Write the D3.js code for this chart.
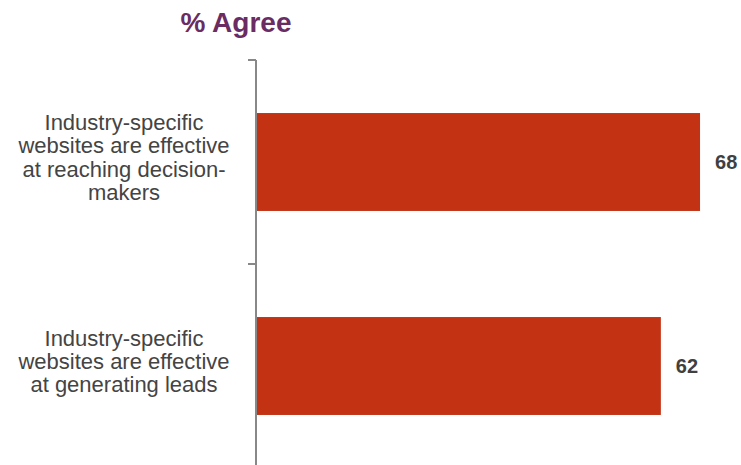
<!DOCTYPE html>
<html>
<head>
<meta charset="utf-8">
<script src="https://cdn.jsdelivr.net/npm/d3@7"></script>
<style>
  body { margin: 0; background: #fff; }
  svg { display: block; font-family: "Liberation Sans", Arial, sans-serif; }
</style>
</head>
<body>
<div id="chart"></div>
<script>
// chart data
const categories = [
  ["Industry-specific", "websites are effective", "at reaching decision-", "makers"],
  ["Industry-specific", "websites are effective", "at generating leads"]
];
const values = [68, 62];
const title = "% Agree";

const width = 741;
const height = 465;

const svg = d3.select("#chart").append("svg")
  .attr("width", width)
  .attr("height", height);

// scales
const x = d3.scaleLinear().domain([0, 100]).range([256, 909]);
const y = d3.scaleBand()
  .domain(d3.range(values.length))
  .range([60, 468])
  .paddingInner(0.52)
  .paddingOuter(0.26);

// title
svg.append("text")
  .attr("x", 236)
  .attr("y", 32)
  .attr("text-anchor", "middle")
  .style("font-size", "28px")
  .style("font-weight", "bold")
  .style("fill", "#6a2c62")
  .text(title);

// bars
svg.append("g").selectAll("rect")
  .data(values)
  .join("rect")
  .attr("x", x(0))
  .attr("y", (d, i) => y(i))
  .attr("width", d => x(d) - x(0))
  .attr("height", y.bandwidth())
  .attr("fill", "#c23213");

// value labels
svg.append("g").selectAll("text")
  .data(values)
  .join("text")
  .attr("x", d => x(d) + 15)
  .attr("y", (d, i) => y(i) + y.bandwidth() / 2)
  .attr("dy", "0.35em")
  .style("font-size", "20px")
  .style("font-weight", "bold")
  .style("fill", "#404040")
  .text(d => d);

// axis line with ticks at band boundaries
const axis = svg.append("g");
const step = y.step();
axis.append("line")
  .attr("x1", x(0)).attr("x2", x(0))
  .attr("y1", 60).attr("y2", height)
  .attr("stroke", "#888").attr("stroke-width", 2);
axis.selectAll("line.tick")
  .data(d3.range(values.length))
  .join("line")
  .attr("class", "tick")
  .attr("x1", x(0) - 8).attr("x2", x(0))
  .attr("y1", i => 60 + i * step)
  .attr("y2", i => 60 + i * step)
  .attr("stroke", "#888").attr("stroke-width", 2);

// category labels, baselines centred a little below the bar middle
const lineH = 23.2;
svg.append("g").selectAll("text")
  .data(categories)
  .join("text")
  .attr("text-anchor", "middle")
  .style("font-size", "22px")
  .style("fill", "#444")
  .each(function(lines, i) {
    const cy = y(i) + y.bandwidth() / 2 + 3;
    const top = cy - (lines.length - 1) * lineH / 2;
    d3.select(this).selectAll("tspan")
      .data(lines)
      .join("tspan")
      .attr("x", 124)
      .attr("y", (d, j) => top + j * lineH)
      .text(d => d);
  });
</script>
</body>
</html>
